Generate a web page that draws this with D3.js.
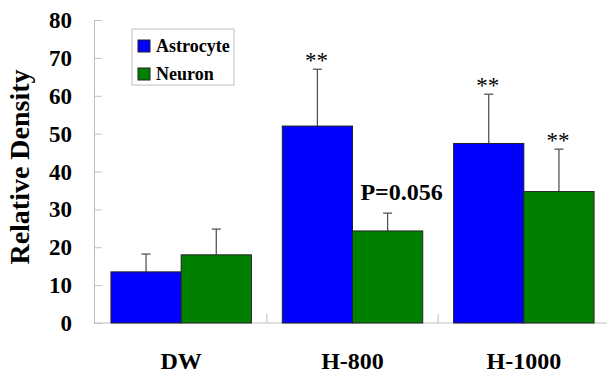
<!DOCTYPE html>
<html>
<head>
<meta charset="utf-8">
<script src="https://cdn.jsdelivr.net/npm/d3@7"></script>
<style>
  body { margin: 0; background: #fff; }
</style>
</head>
<body>
<svg id="chart" width="608" height="374" font-family="'Liberation Serif', 'Times New Roman', serif"></svg>
<script>
const groups = ["DW", "H-800", "H-1000"];
const seriesNames = ["Astrocyte", "Neuron"];
const colors = ["#0000ff", "#008000"];
const astrocyte = [13.5, 52.0, 47.4];
const neuron = [18.0, 24.3, 34.7];
const astrocyteErr = [4.7, 15.0, 13.0];
const neuronErr = [6.8, 4.7, 11.2];
// annotation text above each bar (empty = none)
const astrocyteMarks = ["", "**", "**"];
const neuronMarks = ["", "P=0.056", "**"];
const yTicks = [0, 10, 20, 30, 40, 50, 60, 70, 80];

const rows = groups.map((g, i) => [
  { group: g, s: 0, v: astrocyte[i], e: astrocyteErr[i], mark: astrocyteMarks[i] },
  { group: g, s: 1, v: neuron[i], e: neuronErr[i], mark: neuronMarks[i] }
]).flat();

const svg = d3.select("#chart");
const axisX = 94, baseEnd = 607, mTop = 20, mBottom = 323;

const x = d3.scaleBand().domain(groups).range([95.5, 609.5]).padding(0);
const inner = d3.scaleBand().domain([0, 1]).range([0, x.bandwidth()]).paddingOuter(0.22).paddingInner(0);
const y = d3.scaleLinear().domain([0, 80]).range([mBottom, mTop]);
const cx = d => x(d.group) + inner(d.s) + inner.bandwidth() / 2;

// y axis, ticks pointing inwards
const yAxis = svg.append("g")
  .attr("transform", `translate(${axisX},0)`)
  .call(d3.axisRight(y).tickValues(yTicks).tickSize(8).tickSizeOuter(0).tickFormat(""));
yAxis.selectAll("path, line").attr("stroke", "#c0c0c0");

svg.append("g").selectAll("text")
  .data(yTicks)
  .join("text")
  .attr("x", 72)
  .attr("y", d => y(d))
  .attr("dy", "0.35em")
  .attr("text-anchor", "end")
  .attr("font-size", 23)
  .attr("font-weight", "bold")
  .text(d => d);

// x axis baseline + category dividers
svg.append("line")
  .attr("x1", axisX).attr("x2", baseEnd)
  .attr("y1", mBottom).attr("y2", mBottom)
  .attr("stroke", "#c0c0c0");
svg.append("g").selectAll("line")
  .data(groups.slice(1))
  .join("line")
  .attr("x1", d => x(d)).attr("x2", d => x(d))
  .attr("y1", mBottom).attr("y2", mBottom - 9)
  .attr("stroke", "#c0c0c0");

svg.append("g").selectAll("text")
  .data(groups)
  .join("text")
  .attr("x", d => x(d) + x.bandwidth() / 2)
  .attr("y", 369)
  .attr("text-anchor", "middle")
  .attr("font-size", 24)
  .attr("font-weight", "bold")
  .text(d => d);

// error bars
const err = svg.append("g").selectAll("g")
  .data(rows)
  .join("g")
  .attr("stroke", "#555")
  .attr("stroke-width", 1.3);
err.append("line")
  .attr("x1", cx).attr("x2", cx)
  .attr("y1", d => y(d.v))
  .attr("y2", d => y(d.v + d.e));
err.append("line")
  .attr("x1", d => cx(d) - 4.5)
  .attr("x2", d => cx(d) + 4.5)
  .attr("y1", d => y(d.v + d.e))
  .attr("y2", d => y(d.v + d.e));

// bars
svg.append("g").selectAll("rect")
  .data(rows)
  .join("rect")
  .attr("x", d => x(d.group) + inner(d.s))
  .attr("y", d => y(d.v))
  .attr("width", inner.bandwidth())
  .attr("height", d => y(0) - y(d.v))
  .attr("fill", d => colors[d.s])
  .attr("stroke", "#222")
  .attr("stroke-width", 1);

// significance labels
svg.append("g").selectAll("text")
  .data(rows.filter(d => d.mark))
  .join("text")
  .attr("x", d => d.mark === "**" ? cx(d) - 1 : cx(d) + 14)
  .attr("y", d => d.mark === "**" ? y(d.v + d.e) - 1 : y(d.v + d.e) - 13)
  .attr("text-anchor", "middle")
  .attr("font-size", d => d.mark === "**" ? 23 : 24)
  .attr("font-weight", d => d.mark === "**" ? "normal" : "bold")
  .text(d => d.mark);

// y title
svg.append("text")
  .attr("transform", "translate(29,167) rotate(-90)")
  .attr("text-anchor", "middle")
  .attr("font-size", 28)
  .attr("font-weight", "bold")
  .text("Relative Density");

// legend
const lg = svg.append("g").attr("transform", "translate(132,29)");
lg.append("rect")
  .attr("width", 102).attr("height", 56)
  .attr("fill", "#fff").attr("stroke", "#c0c0c0");
const item = lg.selectAll("g")
  .data(seriesNames)
  .join("g")
  .attr("transform", (d, i) => `translate(6,${17 + i * 28})`);
item.append("rect")
  .attr("x", 0).attr("y", -6)
  .attr("width", 12).attr("height", 12)
  .attr("fill", (d, i) => colors[i])
  .attr("stroke", "#222");
item.append("text")
  .attr("x", 18)
  .attr("dy", "0.34em")
  .attr("font-size", 18)
  .attr("font-weight", "bold")
  .text(d => d);
</script>
</body>
</html>
